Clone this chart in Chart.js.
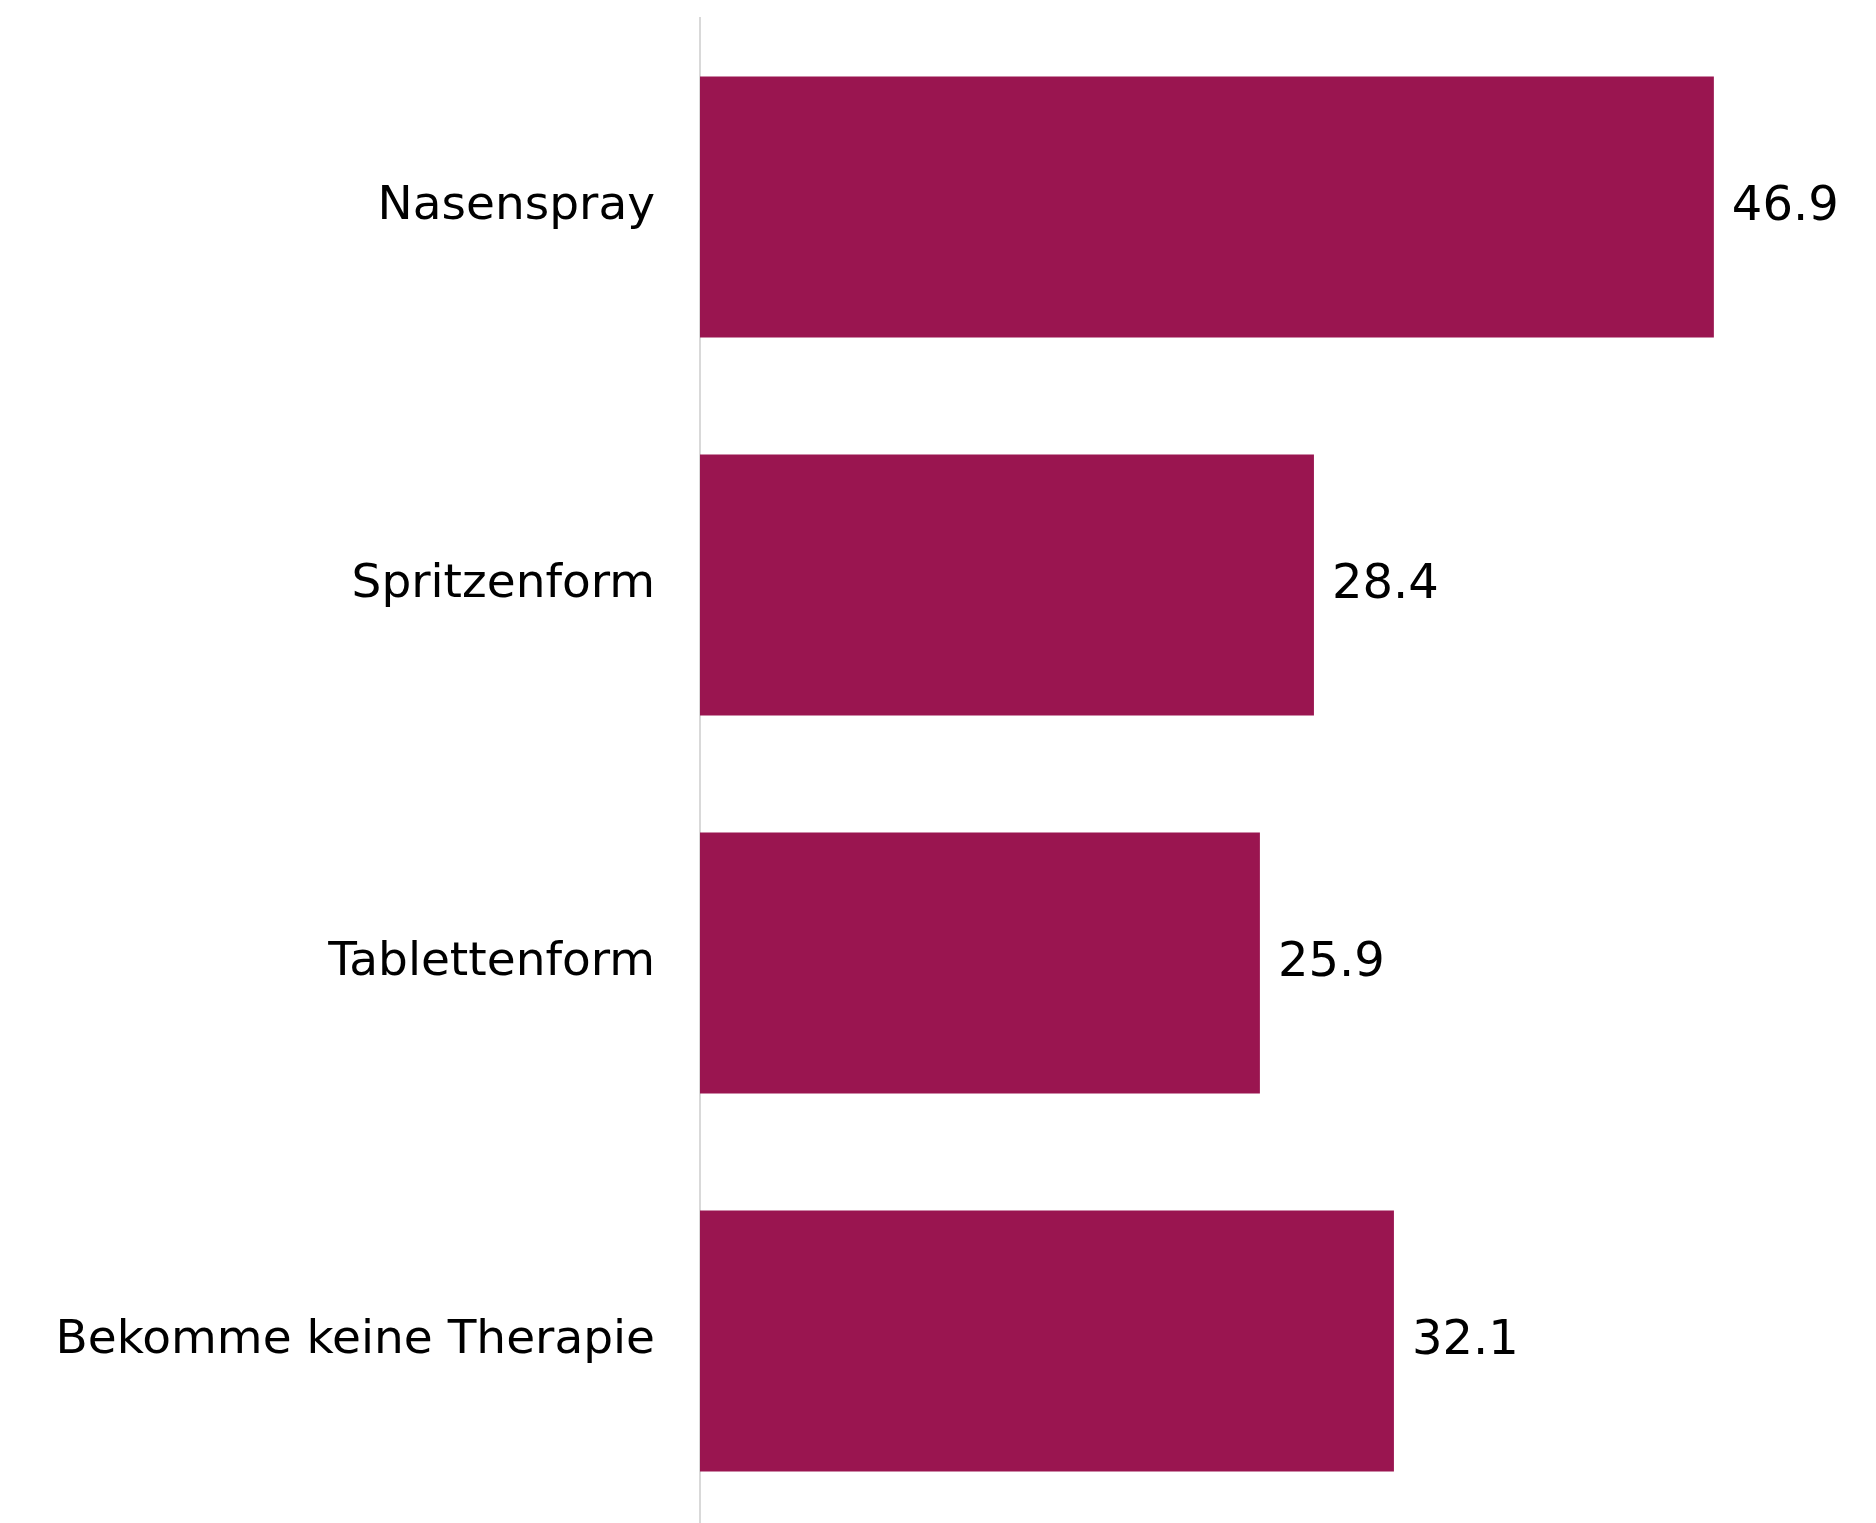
<!DOCTYPE html>
<html lang="de">
  <head>
    <meta charset="UTF-8" />
    <title>Therapieform</title>
    <script src="https://cdn.jsdelivr.net/npm/chart.js"></script>
    <style>
      * {
        margin: 0;
        padding: 0;
        box-sizing: border-box;
      }
      html,
      body {
        background: #ffffff;
        overflow: hidden;
      }
      #therapyChart {
        display: block;
      }
    </style>
  </head>
  <body>
    <canvas id="therapyChart" width="1876" height="1530"></canvas>
    <script>
      // categories and values
      const labels = [
        "Nasenspray",
        "Spritzenform",
        "Tablettenform",
        "Bekomme keine Therapie",
      ];
      const values = [46.9, 28.4, 25.9, 32.1];

      const barColor = "#9a1550";
      const fontFamily = "'DejaVu Sans', sans-serif";

      // draws the number next to the end of each bar
      const valueLabels = {
        id: "valueLabels",
        afterDatasetsDraw(chart) {
          const ctx = chart.ctx;
          const meta = chart.getDatasetMeta(0);
          ctx.save();
          ctx.font = "48px " + fontFamily;
          ctx.fillStyle = "#000";
          ctx.textAlign = "left";
          ctx.textBaseline = "middle";
          meta.data.forEach((bar, i) => {
            ctx.fillText(String(values[i]), bar.x + 18, bar.y + 1);
          });
          ctx.restore();
        },
      };

      new Chart(document.getElementById("therapyChart"), {
        type: "bar",
        data: {
          labels,
          datasets: [
            {
              data: values,
              backgroundColor: barColor,
              borderWidth: 0,
              barPercentage: 0.69,
              categoryPercentage: 1,
            },
          ],
        },
        options: {
          indexAxis: "y",
          responsive: false,
          animation: false,
          layout: {
            padding: { top: 18, right: 0, bottom: 0, left: 0 },
          },
          plugins: {
            legend: { display: false },
            tooltip: { enabled: false },
          },
          scales: {
            x: {
              display: false,
              min: 0,
              max: 54.4,
            },
            y: {
              afterFit(scale) {
                scale.width = 700;
                // no extra room for half labels at the ends
                scale.paddingTop = 0;
                scale.paddingBottom = 0;
              },
              grid: { display: false, drawTicks: false },
              border: { display: true, color: "#d9d9d9", width: 2 },
              ticks: {
                color: "#000",
                padding: 45,
                font: { family: fontFamily, size: 47 },
              },
            },
          },
        },
        plugins: [valueLabels],
      });
    </script>
  </body>
</html>
